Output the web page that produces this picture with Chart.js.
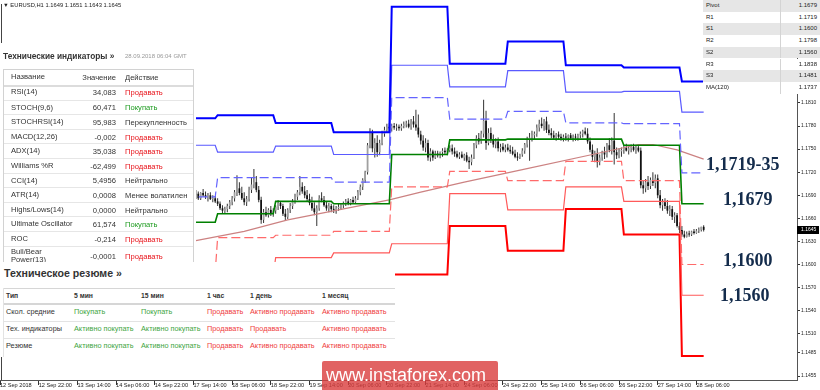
<!DOCTYPE html>
<html><head><meta charset="utf-8">
<script src="https://cdn.jsdelivr.net/npm/chart.js@4.4.1/dist/chart.umd.min.js"></script>
<style>
body{margin:0;background:#fff;}
#wrap{position:relative;width:820px;height:390px;overflow:hidden;background:#fff;font-family:'Liberation Sans',Arial,sans-serif;}
#c{position:absolute;left:0;top:0;}
.abs{position:absolute;white-space:nowrap;}
#hdr{left:3px;top:1px;font-size:5.8px;line-height:8px;color:#222;}
#ind{left:0;top:43px;width:196px;height:219px;background:#fff;overflow:hidden;}
#indTitle{left:3px;top:8px;font-size:8.3px;line-height:10px;font-weight:bold;color:#333;}
#indDate{left:125px;top:8px;font-size:6px;line-height:10px;color:#999;}
#indTable{left:3px;top:26px;width:189px;height:210px;border:1px solid #d2d2d2;background:#fff;}
.irow{position:absolute;left:0;width:189px;font-size:7.6px;color:#333;}
.irow span{position:absolute;top:0;height:100%;display:flex;align-items:center;}
.cn{left:7px;width:66px;white-space:normal;line-height:8.5px;}
.cv{right:77px;justify-content:flex-end;}
.ca{left:121px;}
#res{left:0;top:262px;width:395px;height:95px;background:#fff;overflow:hidden;}
#resTitle{left:4px;top:5px;font-size:10.6px;line-height:12px;color:#333;font-weight:bold;}
.rline{position:absolute;left:3px;width:400px;height:1px;background:#e3e3e3;}
.rcell{position:absolute;font-size:7.3px;line-height:10px;white-space:nowrap;}
#piv{left:703px;top:0;width:117px;height:94px;}
.prow{position:absolute;left:0;width:117px;height:11.7px;font-size:6px;color:#222;}
.prow span{position:absolute;top:0;line-height:11.7px;}
.lvl{position:absolute;font-family:'Liberation Serif','Times New Roman',serif;font-weight:bold;font-size:18px;line-height:18px;color:#142c4c;white-space:nowrap;}
#wm{left:322px;top:361px;width:176px;height:29px;background:rgba(218,60,60,0.8);color:#fff;font-size:18px;line-height:29px;padding-left:4px;box-sizing:border-box;border-radius:2px 2px 0 0;}
</style></head>
<body>
<div id="wrap">
<canvas id="c" width="820" height="390"></canvas>
<div id="hdr" class="abs"></div>
<div id="ind" class="abs">
  <div id="indTitle" class="abs">Технические индикаторы »</div>
  <div id="indDate" class="abs">28.09.2018 06:04 GMT</div>
  <div id="indTable" class="abs"></div>
</div>
<div id="res" class="abs">
  <div id="resTitle" class="abs">Техническое резюме »</div>
</div>
<div id="piv" class="abs"></div>
<div class="lvl" style="left:706px;top:155px">1,1719-35</div>
<div class="lvl" style="left:723px;top:190px">1,1679</div>
<div class="lvl" style="left:723px;top:251px">1,1600</div>
<div class="lvl" style="left:720px;top:286px">1,1560</div>
<div id="wm" class="abs">www.instaforex.com</div>
</div>
<script>
// ---------- DATA ----------
const SYMBOL = "EURUSD,H1";
const FIRST_BAR = 79; // bar index (0 = 12 Sep 06:00) of first candle
const OPEN = [
1.1675,1.1677,1.1690,1.1692,1.1686,1.1693,1.1690,1.1688,1.1690,1.1685,
1.1686,1.1682,1.1679,1.1673,1.1670,1.1672,1.1676,1.1681,1.1686,1.1694,
1.1699,1.1693,1.1686,1.1681,1.1685,1.1697,1.1704,1.1707,1.1697,1.1684,
1.1658,1.1668,1.1664,1.1671,1.1667,1.1670,1.1675,1.1680,1.1676,1.1666,
1.1662,1.1671,1.1676,1.1682,1.1688,1.1694,1.1701,1.1695,1.1690,1.1685,
1.1680,1.1673,1.1668,1.1673,1.1686,1.1684,1.1677,1.1673,1.1676,1.1672,
1.1671,1.1673,1.1675,1.1677,1.1680,1.1682,1.1680,1.1684,1.1681,1.1686,
1.1694,1.1701,1.1710,1.1720,1.1755,1.1771,1.1751,1.1758,1.1746,1.1758,
1.1770,1.1775,1.1779,1.1777,1.1780,1.1778,1.1779,1.1777,1.1780,1.1782,
1.1783,1.1779,1.1786,1.1782,1.1778,1.1769,1.1761,1.1752,1.1758,1.1739,
1.1747,1.1739,1.1744,1.1742,1.1746,1.1748,1.1746,1.1749,1.1751,1.1747,
1.1744,1.1740,1.1743,1.1739,1.1742,1.1735,1.1733,1.1739,1.1755,1.1764,
1.1760,1.1770,1.1787,1.1758,1.1771,1.1762,1.1756,1.1760,1.1751,1.1753,
1.1749,1.1752,1.1749,1.1747,1.1744,1.1740,1.1739,1.1743,1.1748,1.1756,
1.1762,1.1765,1.1768,1.1770,1.1778,1.1783,1.1780,1.1786,1.1775,1.1771,
1.1768,1.1765,1.1769,1.1766,1.1764,1.1766,1.1765,1.1768,1.1764,1.1766,
1.1765,1.1768,1.1770,1.1773,1.1770,1.1760,1.1749,1.1740,1.1744,1.1733,
1.1739,1.1746,1.1743,1.1755,1.1749,1.1761,1.1746,1.1742,1.1747,1.1749,
1.1752,1.1748,1.1751,1.1753,1.1749,1.1752,1.1748,1.1703,1.1699,1.1707,
1.1702,1.1710,1.1706,1.1712,1.1690,1.1677,1.1681,1.1676,1.1670,1.1672,
1.1662,1.1664,1.1650,1.1645,1.1639,1.1636,1.1640,1.1639,1.1643,1.1641,
1.1644,1.1645,1.1649];
const HIGH = [
1.1681,1.1694,1.1697,1.1695,1.1694,1.1698,1.1695,1.1693,1.1694,1.1690,
1.1689,1.1686,1.1682,1.1677,1.1675,1.1679,1.1684,1.1689,1.1697,1.1716,
1.1707,1.1701,1.1694,1.1689,1.1701,1.1713,1.1724,1.1715,1.1702,1.1688,
1.1672,1.1675,1.1673,1.1676,1.1673,1.1677,1.1684,1.1682,1.1679,1.1672,
1.1673,1.1680,1.1685,1.1692,1.1697,1.1715,1.1707,1.1702,1.1697,1.1692,
1.1688,1.1681,1.1677,1.1690,1.1694,1.1689,1.1682,1.1680,1.1679,1.1677,
1.1676,1.1679,1.1680,1.1682,1.1685,1.1686,1.1685,1.1688,1.1689,1.1697,
1.1704,1.1712,1.1722,1.1758,1.1777,1.1775,1.1764,1.1768,1.1762,1.1774,
1.1779,1.1783,1.1784,1.1783,1.1784,1.1783,1.1782,1.1783,1.1786,1.1787,
1.1788,1.1789,1.1793,1.1801,1.1795,1.1774,1.1768,1.1764,1.1762,1.1751,
1.1749,1.1748,1.1748,1.1747,1.1751,1.1752,1.1751,1.1755,1.1756,1.1752,
1.1748,1.1746,1.1747,1.1744,1.1746,1.1740,1.1743,1.1758,1.1768,1.1771,
1.1774,1.1814,1.1800,1.1777,1.1778,1.1769,1.1764,1.1765,1.1757,1.1758,
1.1756,1.1757,1.1755,1.1753,1.1749,1.1746,1.1744,1.1751,1.1758,1.1766,
1.1771,1.1774,1.1773,1.1782,1.1788,1.1791,1.1789,1.1792,1.1782,1.1777,
1.1774,1.1771,1.1773,1.1770,1.1769,1.1771,1.1769,1.1771,1.1769,1.1770,
1.1770,1.1773,1.1775,1.1778,1.1777,1.1765,1.1756,1.1748,1.1751,1.1743,
1.1748,1.1753,1.1758,1.1764,1.1765,1.1797,1.1752,1.1751,1.1752,1.1755,
1.1757,1.1755,1.1756,1.1757,1.1755,1.1756,1.1752,1.1710,1.1711,1.1715,
1.1713,1.1720,1.1717,1.1717,1.1697,1.1685,1.1686,1.1684,1.1677,1.1676,
1.1668,1.1667,1.1655,1.1650,1.1644,1.1643,1.1644,1.1644,1.1646,1.1646,
1.1648,1.1649,1.1651];
const LOW = [
1.1668,1.1662,1.1685,1.1684,1.1684,1.1688,1.1685,1.1682,1.1684,1.1681,
1.1680,1.1676,1.1671,1.1667,1.1666,1.1668,1.1672,1.1677,1.1682,1.1689,
1.1690,1.1684,1.1677,1.1676,1.1682,1.1693,1.1699,1.1694,1.1681,1.1653,
1.1654,1.1662,1.1661,1.1663,1.1662,1.1666,1.1671,1.1672,1.1663,1.1657,
1.1659,1.1667,1.1672,1.1679,1.1684,1.1690,1.1692,1.1686,1.1682,1.1677,
1.1670,1.1664,1.1650,1.1670,1.1681,1.1675,1.1670,1.1668,1.1668,1.1667,
1.1666,1.1670,1.1671,1.1673,1.1676,1.1677,1.1677,1.1679,1.1679,1.1684,
1.1690,1.1697,1.1706,1.1717,1.1751,1.1746,1.1739,1.1740,1.1742,1.1755,
1.1766,1.1771,1.1774,1.1773,1.1775,1.1774,1.1774,1.1774,1.1777,1.1778,
1.1777,1.1775,1.1778,1.1774,1.1765,1.1756,1.1748,1.1746,1.1735,1.1734,
1.1735,1.1737,1.1739,1.1738,1.1740,1.1743,1.1742,1.1746,1.1743,1.1740,
1.1738,1.1737,1.1738,1.1735,1.1733,1.1724,1.1729,1.1737,1.1751,1.1756,
1.1757,1.1765,1.1749,1.1755,1.1758,1.1752,1.1751,1.1747,1.1746,1.1747,
1.1746,1.1747,1.1744,1.1742,1.1738,1.1735,1.1737,1.1740,1.1744,1.1752,
1.1735,1.1760,1.1762,1.1766,1.1773,1.1777,1.1774,1.1771,1.1768,1.1764,
1.1762,1.1761,1.1762,1.1761,1.1760,1.1761,1.1760,1.1762,1.1760,1.1761,
1.1761,1.1764,1.1765,1.1768,1.1757,1.1746,1.1735,1.1733,1.1726,1.1729,
1.1735,1.1737,1.1739,1.1746,1.1743,1.1730,1.1737,1.1738,1.1740,1.1744,
1.1747,1.1743,1.1746,1.1747,1.1744,1.1746,1.1699,1.1692,1.1694,1.1697,
1.1698,1.1702,1.1699,1.1686,1.1673,1.1670,1.1672,1.1666,1.1663,1.1658,
1.1654,1.1648,1.1641,1.1636,1.1634,1.1635,1.1636,1.1637,1.1639,1.1640,
1.1641,1.1643,1.1643];
const CLOSE = [
1.1677,1.1690,1.1692,1.1686,1.1693,1.1690,1.1688,1.1690,1.1685,1.1686,
1.1682,1.1679,1.1673,1.1670,1.1672,1.1676,1.1681,1.1686,1.1694,1.1699,
1.1693,1.1686,1.1681,1.1685,1.1697,1.1704,1.1707,1.1697,1.1684,1.1658,
1.1668,1.1664,1.1671,1.1667,1.1670,1.1675,1.1680,1.1676,1.1666,1.1662,
1.1671,1.1676,1.1682,1.1688,1.1694,1.1701,1.1695,1.1690,1.1685,1.1680,
1.1673,1.1668,1.1673,1.1686,1.1684,1.1677,1.1673,1.1676,1.1672,1.1671,
1.1673,1.1675,1.1677,1.1680,1.1682,1.1680,1.1684,1.1681,1.1686,1.1694,
1.1701,1.1710,1.1720,1.1755,1.1771,1.1751,1.1758,1.1746,1.1758,1.1770,
1.1775,1.1779,1.1777,1.1780,1.1778,1.1779,1.1777,1.1780,1.1782,1.1783,
1.1779,1.1786,1.1782,1.1778,1.1769,1.1761,1.1752,1.1758,1.1739,1.1747,
1.1739,1.1744,1.1742,1.1746,1.1748,1.1746,1.1749,1.1751,1.1747,1.1744,
1.1740,1.1743,1.1739,1.1742,1.1735,1.1733,1.1739,1.1755,1.1764,1.1760,
1.1770,1.1787,1.1758,1.1771,1.1762,1.1756,1.1760,1.1751,1.1753,1.1749,
1.1752,1.1749,1.1747,1.1744,1.1740,1.1739,1.1743,1.1748,1.1756,1.1762,
1.1765,1.1768,1.1770,1.1778,1.1783,1.1780,1.1786,1.1775,1.1771,1.1768,
1.1765,1.1769,1.1766,1.1764,1.1766,1.1765,1.1768,1.1764,1.1766,1.1765,
1.1768,1.1770,1.1773,1.1770,1.1760,1.1749,1.1740,1.1744,1.1733,1.1739,
1.1746,1.1743,1.1755,1.1749,1.1761,1.1746,1.1742,1.1747,1.1749,1.1752,
1.1748,1.1751,1.1753,1.1749,1.1752,1.1748,1.1703,1.1699,1.1707,1.1702,
1.1710,1.1706,1.1712,1.1690,1.1677,1.1681,1.1676,1.1670,1.1672,1.1662,
1.1664,1.1650,1.1645,1.1639,1.1636,1.1640,1.1639,1.1643,1.1641,1.1644,
1.1645,1.1649,1.1645];

// daily pivot levels (17 Sep .. 28 Sep)
const DAY_START = [66, 90, 114, 138, 162, 186, 210, 234, 258, 282];
const DAY_END   = [89, 113, 137, 161, 185, 209, 233, 257, 281, 291];
const LVL_R3 = [1.1790,1.1794,1.1784,1.1772,1.1935,1.1861,1.1890,1.1859,1.1856,1.1838];
const LVL_R2 = [1.1755,1.1746,1.1754,1.1743,1.1859,1.1831,1.1852,1.1824,1.1825,1.1798];
const LVL_R1 = [1.1688,1.1713,1.1713,1.1707,1.1817,1.1789,1.1799,1.1784,1.1783,1.1719];
const LVL_P  = [1.1655,1.1666,1.1682,1.1679,1.1743,1.1762,1.1763,1.1763,1.1755,1.1679];
const LVL_S1 = [1.1590,1.1635,1.1638,1.1643,1.1701,1.1721,1.1709,1.1734,1.1709,1.1600];
const LVL_S2 = [1.1555,1.1586,1.1609,1.1615,1.1627,1.1692,1.1671,1.1701,1.1682,1.1560];
const LVL_S3 = [1.1490,1.1553,1.1569,1.1579,1.1587,1.1650,1.1618,1.1672,1.1639,1.1481];

// MA(120) read at selected bars
const MA_BARS   = [24, 81, 101, 119, 140, 161, 174, 192, 217, 245, 264, 270, 280, 291];
const MA_VALUES = [1.1601,1.1631,1.1643,1.1658,1.1671,1.1684,1.1694,1.1707,1.1724,1.1743,1.1756,1.1756,1.1749,1.1737];

const X_TICK_BARS = [0,16,32,48,64,80,96,112,128,144,160,176,192,208,224,240,256,272,288];
const X_TICK_LABELS = ["12 Sep 2018","12 Sep 22:00","13 Sep 14:00","14 Sep 06:00","14 Sep 22:00","17 Sep 14:00","18 Sep 06:00","18 Sep 22:00","19 Sep 14:00","20 Sep 06:00","20 Sep 22:00","21 Sep 14:00","24 Sep 06:00","24 Sep 22:00","25 Sep 14:00","26 Sep 06:00","26 Sep 22:00","27 Sep 14:00","28 Sep 06:00"];
const Y_TICKS = [1.1455,1.1485,1.1510,1.1540,1.1570,1.1600,1.1630,1.1660,1.1690,1.1720,1.1750,1.1780,1.1810];

const PIVOT_NAMES  = ["Pivot","R1","S1","R2","S2","R3","S3","MA(120)"];
const PIVOT_VALUES = ["1.1679","1.1719","1.1600","1.1798","1.1560","1.1838","1.1481","1.1737"];

const IND_NAMES = ["RSI(14)","STOCH(9,6)","STOCHRSI(14)","MACD(12,26)","ADX(14)","Williams %R","CCI(14)","ATR(14)","Highs/Lows(14)","Ultimate Oscillator","ROC","Bull/Bear Power(13)"];
const IND_VALUES = ["34,083","60,471","95,983","-0,002","35,038","-62,499","5,4956","0,0008","0,0000","61,574","-0,214","-0,0001"];
const IND_ACTIONS = ["Продавать","Покупать","Перекупленность","Продавать","Продавать","Продавать","Нейтрально","Менее волатилен","Нейтрально","Покупать","Продавать","Продавать"];

const RES_HEAD = ["Тип","5 мин","15 мин","1 час","1 день","1 месяц"];
const RES_NAMES = ["Скол. средние","Тех. индикаторы","Резюме"];
const RES_MA   = ["Покупать","Покупать","Продавать","Активно продавать","Активно продавать"];
const RES_TECH = ["Активно покупать","Активно покупать","Продавать","Продавать","Активно продавать"];
const RES_SUM  = ["Активно покупать","Активно покупать","Продавать","Активно продавать","Активно продавать"];

// ---------- HTML PANELS ----------
const last = CLOSE.length - 1;
document.getElementById('hdr').textContent = '▼ ' + SYMBOL + '  ' + [OPEN[last],HIGH[last],LOW[last],CLOSE[last]].map(v=>v.toFixed(4)).join(' ');

const it = document.getElementById('indTable');
function actColor(a){ if (a==='Продавать') return '#e8141b'; if (a==='Покупать') return '#1e9b20'; return '#333'; }
(function(){
  const h = document.createElement('div'); h.className='irow'; h.style.top='0px'; h.style.height='15px';
  h.style.borderBottom='2px solid #dcdcdc';
  h.innerHTML = '<span class="cn">Название</span><span class="cv">Значение</span><span class="ca">Действие</span>';
  it.appendChild(h);
  IND_NAMES.forEach((n,k)=>{
    const r = document.createElement('div'); r.className='irow';
    r.style.top = (15 + k*14.6) + 'px';
    r.style.height = (k === IND_NAMES.length-1 ? 19 : 14.6) + 'px';
    if (k>0) r.style.borderTop = '1px solid #e6e6e6';
    r.innerHTML = '<span class="cn"></span><span class="cv"></span><span class="ca"></span>';
    r.children[0].textContent = n; r.children[1].textContent = IND_VALUES[k];
    r.children[2].textContent = IND_ACTIONS[k]; r.children[2].style.color = actColor(IND_ACTIONS[k]);
    it.appendChild(r);
  });
})();

const res = document.getElementById('res');
(function(){
  const COLS = [6,74,141,207,250,322];
  const lines = [26, 41, 58.5, 75.5];
  lines.forEach((y,k)=>{ const l=document.createElement('div'); l.className='rline'; l.style.top=y+'px';
    if(k===1){l.style.height='2px';l.style.background='#d6d6d6';} if(k===0){l.style.background='#d6d6d6';} res.appendChild(l); });
  const lb = document.createElement('div'); lb.style.cssText='position:absolute;left:3px;top:26px;width:1px;height:70px;background:#e3e3e3'; res.appendChild(lb);
  RES_HEAD.forEach((t,c)=>{ const d=document.createElement('div'); d.className='rcell'; d.style.left=COLS[c]+'px'; d.style.top='28.5px';
    d.style.fontWeight='bold'; d.style.fontSize='6.8px'; d.style.color='#333'; d.textContent=t; res.appendChild(d); });
  const rows = [RES_MA, RES_TECH, RES_SUM];
  rows.forEach((row,r)=>{
    const cy = 50 + r*17;
    const n=document.createElement('div'); n.className='rcell'; n.style.left=COLS[0]+'px'; n.style.top=(cy-5)+'px'; n.style.color='#333'; n.textContent=RES_NAMES[r]; res.appendChild(n);
    row.forEach((t,c)=>{ const d=document.createElement('div'); d.className='rcell'; d.style.left=COLS[c+1]+'px'; d.style.top=(cy-5)+'px';
      d.style.color = /покуп/i.test(t) ? '#3fa63f' : '#ef4040'; d.textContent=t; res.appendChild(d); });
  });
})();

const piv = document.getElementById('piv');
PIVOT_NAMES.forEach((n,k)=>{
  const r=document.createElement('div'); r.className='prow'; r.style.top=(k*11.7)+'px';
  r.style.background = (k%2===0 && k<7) ? '#e6e6e6' : '#fff';
  r.innerHTML='<span style="left:3px"></span><span style="right:3px"></span><span style="left:77px;width:1px;height:11.7px;background:#d4d4d4"></span>';
  r.children[0].textContent=n; r.children[1].textContent=PIVOT_VALUES[k];
  piv.appendChild(r);
});

// ---------- CHART ----------
Chart.defaults.font.family = "'Liberation Sans', Arial, sans-serif";
const barIdx = OPEN.map((_,k)=>FIRST_BAR+k);
const wickData = barIdx.map((b,k)=>({x:b, y:[LOW[k], HIGH[k]]}));
const bodyData = barIdx.map((b,k)=>({x:b, y:[OPEN[k], CLOSE[k]]}));
function levelData(vals){ const pts=[]; vals.forEach((v,d)=>{ pts.push({x:DAY_START[d], y:v}); pts.push({x:DAY_END[d], y:v}); }); return pts; }
function lineDs(vals, color, width, dash){ return {type:'line', data: levelData(vals), borderColor:color, borderWidth:width, borderDash:dash||[], pointRadius:0, fill:false, tension:0, order:1}; }

const framePlugin = {
  id:'frame',
  afterDraw(chart){
    const {ctx, chartArea:a, scales} = chart;
    ctx.save();
    ctx.strokeStyle='#444'; ctx.lineWidth=1;
    ctx.beginPath(); ctx.moveTo(a.left+1.5, a.top); ctx.lineTo(a.left+1.5, a.bottom); ctx.stroke();
    const v = CLOSE[last];
    const y = scales.y.getPixelForValue(v);
    ctx.fillStyle='#000'; ctx.fillRect(a.right, Math.round(y)-4, 22, 8);
    ctx.fillStyle='#fff'; ctx.font="5px 'Liberation Sans', Arial"; ctx.textBaseline='middle'; ctx.textAlign='left';
    ctx.fillText(v.toFixed(4), a.right+4, Math.round(y));
    ctx.restore();
  }
};

new Chart(document.getElementById('c'), {
  type:'line',
  data:{ datasets:[
    {type:'bar', data:wickData, backgroundColor:'#333', borderWidth:0, maxBarThickness:1, grouped:false, order:20},
    {type:'bar', data:bodyData, borderWidth:0, maxBarThickness:1.8, grouped:false, minBarLength:1, order:19,
      backgroundColor: c => { const k=c.dataIndex; return (CLOSE[k] >= OPEN[k]) ? '#a0a0a0' : '#111'; }},
    {type:'line', data: MA_BARS.map((b,k)=>({x:b, y:MA_VALUES[k]})), borderColor:'#cc8282', borderWidth:1.2, pointRadius:0, fill:false, tension:0, order:2},
    lineDs(LVL_R3, '#0000ff', 2),
    lineDs(LVL_R2, '#5a5aff', 1.2),
    lineDs(LVL_R1, '#6464ff', 1.2, [9,4]),
    lineDs(LVL_P,  '#008000', 1.6),
    lineDs(LVL_S1, '#ff6a6a', 1.2, [9,4]),
    lineDs(LVL_S2, '#ff5a5a', 1.2),
    lineDs(LVL_S3, '#ff0000', 2)
  ]},
  options:{
    responsive:false, animation:false, events:[],
    layout:{padding:0},
    plugins:{legend:{display:false}, tooltip:{enabled:false}},
    scales:{
      x:{type:'linear', min:0, max:329.6, offset:false,
        grid:{drawOnChartArea:false, offset:false, tickLength:5, color:'#333'},
        border:{display:true, color:'#555'},
        afterBuildTicks: s => { s.ticks = X_TICK_BARS.map(v=>({value:v})); },
        afterFit: s => { s.height = 10; },
        ticks:{autoSkip:false, maxRotation:0, minRotation:0, align:'start', padding:-3, color:'#222', font:{size:5.6},
          callback:(v,i)=>X_TICK_LABELS[i]}
      },
      y:{type:'linear', position:'right', min:1.144986, max:1.193862,
        grid:{drawOnChartArea:false, tickLength:3, color:'#333'},
        border:{display:true, color:'#555'},
        afterBuildTicks: s => { s.ticks = Y_TICKS.map(v=>({value:v})); },
        afterFit: s => { s.width = 23; },
        ticks:{padding:1, color:'#222', font:{size:5}, callback:v=>Number(v).toFixed(4)}
      }
    }
  },
  plugins:[framePlugin]
});
</script>
</body></html>
